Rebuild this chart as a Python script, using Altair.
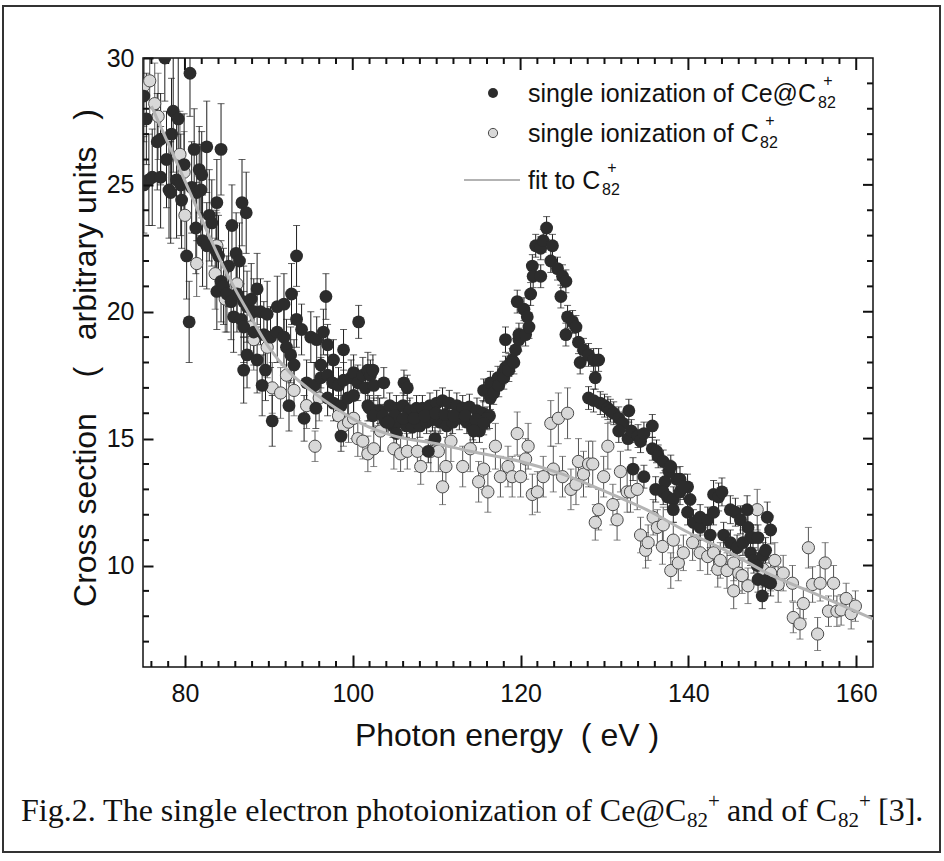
import altair as alt
import pandas as pd

# ---------------- data ----------------
# (photon energy eV, cross section, error half-width)
dark_left = [
    (75.1, 28.5, 1.8), (75.1, 25.0, 1.9), (75.4, 27.6, 1.8), (75.7, 25.2, 1.8), (76.1, 25.3, 1.9),
    (76.7, 26.7, 1.9), (77.1, 26.8, 1.8), (77.1, 25.3, 2.0), (77.6, 30.0, 1.7), (77.8, 26.0, 1.9),
    (78.1, 24.8, 1.9), (78.3, 24.7, 2.0), (78.4, 27.0, 2.2), (78.6, 27.9, 2.4), (79.0, 25.2, 2.3),
    (79.2, 27.6, 2.5), (79.5, 25.0, 2.0), (79.6, 24.4, 1.9), (79.9, 25.8, 2.0), (80.2, 22.2, 1.7),
    (80.5, 19.6, 1.6), (80.6, 29.4, 1.7), (80.8, 24.9, 1.8), (81.1, 26.4, 1.6), (81.3, 23.3, 1.8),
    (81.4, 24.7, 1.9), (81.7, 25.6, 1.7), (81.9, 24.8, 1.8), (82.0, 25.4, 1.7), (82.1, 22.8, 1.8),
    (82.6, 26.5, 1.8), (82.6, 22.6, 1.7), (82.9, 23.8, 1.8), (83.2, 23.5, 1.7), (83.7, 22.4, 1.6),
    (83.8, 24.3, 1.7), (83.8, 20.8, 1.5), (84.0, 22.2, 1.6), (84.3, 26.4, 1.8), (84.3, 21.2, 1.6),
    (84.6, 21.0, 1.5), (85.0, 20.7, 1.5), (85.2, 21.8, 1.6), (85.5, 20.4, 1.5), (85.6, 23.4, 1.6),
    (85.8, 19.8, 1.4), (86.1, 22.3, 1.6), (86.2, 20.7, 1.5), (86.5, 22.0, 1.5), (86.7, 19.7, 1.4),
    (86.8, 24.3, 1.7), (87.0, 20.4, 1.4), (87.0, 19.4, 1.4), (87.0, 17.7, 1.3), (87.3, 23.9, 1.6),
    (87.4, 20.2, 1.4), (87.4, 18.3, 1.3), (87.9, 20.5, 1.4), (88.2, 20.0, 1.3), (88.2, 19.2, 1.3),
    (88.6, 20.9, 1.4), (88.6, 18.1, 1.3), (89.0, 20.0, 1.3), (89.2, 17.1, 1.2), (89.4, 19.1, 1.3),
    (89.6, 17.7, 1.2), (89.8, 19.9, 1.3), (90.2, 19.0, 1.2), (90.4, 15.7, 1.0), (91.0, 20.2, 1.2),
    (91.0, 19.2, 1.2), (91.8, 20.3, 1.2), (91.8, 19.0, 1.1), (92.1, 18.6, 1.1), (92.4, 16.3, 1.0),
    (92.6, 18.3, 1.1), (92.7, 20.7, 1.2), (93.0, 17.9, 1.0), (93.3, 22.2, 1.2), (93.3, 19.7, 1.1),
    (93.9, 19.3, 1.0), (94.2, 15.8, 0.9), (94.5, 17.2, 0.9), (95.0, 19.0, 1.0), (95.4, 17.1, 0.9),
    (95.6, 16.2, 0.8), (95.7, 18.9, 0.9), (96.2, 17.9, 0.9), (96.5, 19.2, 0.9), (96.8, 20.6, 0.9),
]
dark_mid = [
    (96.2, 17.4, 0.8), (97.0, 18.7, 0.8), (97.0, 17.5, 0.8), (97.0, 16.6, 0.7), (97.6, 17.2, 0.8),
    (97.7, 18.1, 0.8), (97.7, 16.4, 0.7), (98.3, 17.1, 0.7), (98.6, 16.3, 0.7), (98.6, 15.1, 0.6),
    (98.9, 18.5, 0.8), (98.9, 17.3, 0.7), (99.4, 16.6, 0.7), (99.8, 17.4, 0.7), (100.1, 16.7, 0.7),
    (100.1, 17.6, 0.7), (100.6, 17.2, 0.7), (100.7, 19.6, 0.65), (101.2, 17.5, 0.7), (101.5, 17.0, 0.6),
    (101.8, 17.7, 0.7), (101.8, 16.3, 0.6), (102.1, 17.5, 0.6), (102.4, 17.7, 0.6), (102.5, 17.1, 0.6),
    (102.5, 16.0, 0.6), (103.0, 16.1, 0.6), (103.7, 17.2, 0.6),
]
dark_band = [
    (102.0, 16.2, 0.5), (103.2, 16.1, 0.5), (104.4, 16.3, 0.5), (105.2, 16.2, 0.5), (106.0, 16.3, 0.5),
    (106.8, 16.1, 0.5), (107.6, 16.2, 0.5), (108.3, 16.2, 0.5), (109.2, 16.3, 0.5), (110.0, 16.4, 0.5),
    (110.7, 16.5, 0.5), (111.5, 16.4, 0.5), (112.4, 16.3, 0.5), (113.1, 16.2, 0.5), (113.9, 16.25, 0.5),
    (114.8, 16.1, 0.5), (115.5, 16.0, 0.5), (116.3, 15.9, 0.5),
    (102.4, 15.9, 0.45), (104.0, 15.65, 0.45), (104.8, 15.5, 0.45), (105.6, 15.65, 0.45), (106.4, 15.5, 0.45),
    (107.1, 15.45, 0.45), (108.0, 15.5, 0.45), (108.8, 15.65, 0.45), (109.5, 15.75, 0.45), (110.4, 15.65, 0.45),
    (111.2, 15.5, 0.45), (111.9, 15.65, 0.45), (112.7, 15.8, 0.45), (113.6, 15.65, 0.45), (114.3, 15.4, 0.45),
    (115.1, 15.3, 0.45), (116.0, 15.8, 0.45),
    (103.6, 15.9, 0.45), (105.0, 15.9, 0.45), (106.0, 15.8, 0.45), (107.3, 15.8, 0.45), (108.6, 15.9, 0.45),
    (109.9, 16.0, 0.45), (111.0, 15.95, 0.45), (112.0, 15.9, 0.45), (113.4, 15.9, 0.45), (114.7, 15.75, 0.45),
    (115.6, 15.6, 0.45),
    (104.2, 15.65, 0.45), (105.2, 15.2, 0.45), (106.1, 17.2, 0.5), (106.5, 17.0, 0.5), (109.0, 14.5, 0.45),
    (109.8, 15.0, 0.45), (114.4, 15.3, 0.45),
]
dark_rise = [
    (115.6, 16.9, 0.45), (116.4, 17.2, 0.45), (116.4, 16.6, 0.45), (116.8, 16.8, 0.45), (117.3, 17.4, 0.45),
    (117.4, 17.1, 0.45), (117.9, 17.6, 0.45), (118.0, 17.4, 0.45), (118.2, 17.8, 0.45), (118.2, 18.9, 0.5),
    (118.6, 17.9, 0.45), (118.6, 17.7, 0.45), (119.0, 18.1, 0.45), (119.2, 18.0, 0.45), (119.4, 18.5, 0.45),
    (119.8, 18.9, 0.45), (119.6, 20.4, 0.45), (119.8, 19.1, 0.45), (120.4, 20.1, 0.45), (120.6, 19.1, 0.45),
    (120.8, 19.8, 0.45), (121.0, 19.4, 0.45), (121.2, 20.7, 0.45), (121.4, 21.8, 0.45), (121.5, 21.4, 0.45),
    (121.8, 22.6, 0.45), (122.4, 22.5, 0.45), (122.4, 21.4, 0.45), (122.7, 22.8, 0.45), (123.1, 23.3, 0.45),
]
dark_fall = [
    (123.6, 22.0, 0.45), (123.8, 22.6, 0.45), (124.4, 21.7, 0.45), (124.8, 20.6, 0.45), (125.0, 21.4, 0.45),
    (125.4, 21.2, 0.45), (125.4, 19.1, 0.45), (125.6, 19.8, 0.45), (126.2, 19.6, 0.45), (126.6, 19.4, 0.45),
    (126.9, 18.8, 0.45), (127.1, 18.0, 0.45), (127.5, 18.5, 0.45), (128.1, 18.3, 0.45), (128.7, 18.1, 0.45),
    (129.3, 18.1, 0.45), (128.9, 17.4, 0.45), (128.1, 16.6, 0.45), (128.7, 16.5, 0.45), (129.5, 16.4, 0.45),
    (130.0, 16.3, 0.45), (130.4, 16.2, 0.45), (130.7, 16.1, 0.45), (131.1, 16.0, 0.45), (131.7, 15.8, 0.45),
    (132.2, 15.6, 0.45), (132.9, 16.1, 0.45), (131.7, 15.3, 0.45), (132.8, 15.0, 0.45), (133.2, 15.3, 0.45),
    (134.0, 15.1, 0.45), (134.3, 14.9, 0.45), (134.7, 15.2, 0.45), (135.7, 15.5, 0.45), (135.7, 14.6, 0.45),
    (136.2, 14.5, 0.45), (136.4, 14.3, 0.45), (137.0, 14.1, 0.45), (137.7, 13.7, 0.45), (137.9, 13.9, 0.45),
    (138.6, 13.4, 0.45), (137.2, 13.3, 0.45), (133.4, 13.8, 0.45), (134.7, 13.5, 0.45), (136.1, 13.0, 0.5),
    (137.0, 12.9, 0.5), (137.5, 12.7, 0.5), (138.2, 12.6, 0.5), (139.0, 12.9, 0.5), (139.9, 13.1, 0.5),
    (139.0, 13.4, 0.5), (139.4, 13.1, 0.5), (140.2, 12.6, 0.5), (138.2, 12.2, 0.5), (139.9, 12.1, 0.5),
    (140.6, 11.7, 0.5), (141.4, 11.5, 0.5), (141.4, 11.9, 0.5), (142.3, 11.8, 0.5), (142.6, 11.2, 0.5),
    (143.0, 12.1, 0.5), (143.0, 12.8, 0.55), (143.6, 12.7, 0.55), (144.0, 12.9, 0.55), (144.2, 11.2, 0.5),
    (145.0, 12.2, 0.55), (145.0, 10.9, 0.5), (145.6, 12.1, 0.55), (145.8, 10.7, 0.5), (146.2, 11.8, 0.55),
    (146.5, 10.9, 0.5), (147.0, 12.2, 0.55), (147.1, 11.5, 0.5), (147.4, 11.1, 0.5), (147.7, 11.1, 0.5),
    (148.3, 11.1, 0.5), (147.4, 10.5, 0.5), (147.8, 10.2, 0.5), (148.2, 10.0, 0.5), (148.9, 10.4, 0.5),
    (149.2, 10.6, 0.5), (149.4, 11.9, 0.6), (149.8, 11.4, 0.55), (148.3, 9.45, 0.5), (149.2, 9.4, 0.5),
    (149.8, 9.3, 0.5), (148.8, 8.8, 0.5),
]
light_pts = [
    (75.1, 28.9, 1.6), (75.8, 29.1, 1.5), (76.4, 28.2, 1.6), (76.8, 27.7, 1.7), (79.4, 26.2, 1.7),
    (79.9, 25.5, 1.6), (80.0, 23.8, 1.6), (81.4, 21.9, 1.3), (83.6, 21.5, 1.4), (83.8, 22.6, 1.3),
    (84.8, 20.5, 1.3), (86.2, 21.1, 1.4), (87.8, 19.4, 1.2), (88.2, 18.9, 1.2), (89.8, 18.6, 1.2),
    (90.4, 17.0, 1.0), (91.4, 16.8, 1.0), (92.1, 17.5, 1.1), (93.0, 16.9, 1.0), (94.5, 16.3, 0.9),
    (95.5, 14.7, 0.6), (96.0, 16.6, 0.9), (98.3, 15.9, 0.8), (98.9, 15.5, 0.8), (99.5, 15.65, 0.8),
    (100.1, 15.8, 0.8), (100.6, 15.0, 0.7), (101.2, 14.9, 0.7), (101.8, 14.4, 0.7), (102.5, 14.6, 0.7),
    (103.3, 15.3, 0.8), (104.9, 14.6, 0.8), (105.7, 14.4, 0.7), (106.5, 14.5, 0.7), (107.7, 14.5, 0.8),
    (108.1, 13.9, 0.7), (109.3, 14.5, 0.8), (110.2, 14.5, 0.8), (110.7, 13.1, 0.7), (111.1, 13.9, 0.8),
    (111.7, 14.9, 0.8), (113.1, 13.9, 0.8), (114.0, 14.6, 0.9), (115.0, 13.3, 0.8), (115.6, 13.8, 0.8),
    (116.1, 12.9, 0.8), (117.0, 14.7, 0.9), (117.6, 13.5, 0.8), (118.5, 13.9, 0.8), (119.0, 13.5, 0.8),
    (119.6, 15.2, 0.85), (120.0, 13.5, 0.8), (120.6, 14.2, 0.8), (120.9, 14.7, 0.9), (121.4, 12.8, 0.8),
    (122.0, 12.9, 0.8), (122.7, 13.5, 0.8), (123.6, 15.6, 0.9), (123.9, 13.8, 0.9), (124.5, 15.8, 1.0),
    (125.0, 13.5, 0.8), (125.6, 16.0, 1.0), (126.0, 13.0, 0.8), (126.6, 13.2, 0.8), (126.9, 14.1, 0.9),
    (127.5, 13.6, 0.9), (128.1, 14.0, 0.9), (128.6, 14.0, 0.9), (128.9, 11.7, 0.7), (129.3, 12.2, 0.8),
    (129.9, 13.5, 0.8), (130.4, 14.7, 0.9), (131.0, 12.4, 0.8), (131.5, 11.8, 0.8), (131.9, 13.7, 0.8),
    (132.7, 12.9, 0.8), (133.1, 12.9, 0.8), (133.9, 13.0, 0.8), (134.3, 11.2, 0.7), (134.9, 10.6, 0.7),
    (135.2, 10.9, 0.7), (135.8, 11.9, 0.7), (136.3, 11.5, 0.7), (137.0, 11.6, 0.7), (136.9, 10.75, 0.7),
    (137.9, 9.8, 0.7), (138.2, 11.0, 0.7), (138.8, 10.1, 0.7), (139.4, 10.5, 0.7), (140.5, 10.9, 0.7),
    (141.4, 10.5, 0.7), (142.3, 10.35, 0.7), (143.0, 10.5, 0.7), (143.5, 9.85, 0.7), (143.8, 10.2, 0.7),
    (144.6, 9.8, 0.7), (145.4, 10.1, 0.7), (145.4, 9.0, 0.7), (146.0, 9.7, 0.7), (146.4, 9.6, 0.7),
    (147.1, 9.2, 0.7), (148.2, 12.2, 0.8), (148.9, 9.85, 0.7), (149.8, 9.7, 0.7), (150.3, 10.2, 0.7),
    (150.7, 9.25, 0.7), (151.3, 9.7, 0.7), (152.4, 9.3, 0.7), (152.5, 7.95, 0.6), (153.3, 7.7, 0.6),
    (153.7, 8.5, 0.6), (154.3, 10.7, 0.8), (154.8, 9.25, 0.7), (155.4, 7.3, 0.65), (155.7, 9.3, 0.7),
    (156.3, 10.1, 0.8), (156.7, 8.2, 0.6), (157.3, 9.3, 0.7), (157.7, 8.2, 0.6), (158.2, 8.25, 0.6),
    (158.8, 8.7, 0.6), (159.4, 8.1, 0.6), (159.9, 8.4, 0.6),
]
fit_x = [76, 77.5, 79, 81, 83, 85, 87.5, 90, 92.5, 95, 98, 101, 105, 110, 114, 120, 125, 129.5, 135, 140, 145, 149.4, 155, 162]
fit_y = [28.1, 27.0, 25.9, 24.4, 22.9, 21.5, 20.0, 18.6, 17.6, 16.9, 16.2, 15.6, 15.1, 14.8, 14.5, 14.1, 13.6, 13.0, 12.2, 11.3, 10.5, 9.7, 8.9, 7.9]

x_labels = [80, 100, 120, 140, 160]
x_minor = [76, 78, 82, 84, 86, 88, 90, 92, 94, 96, 98, 102, 104, 106, 108, 110, 112, 114, 116, 118,
           122, 124, 126, 128, 130, 132, 134, 136, 138, 142, 144, 146, 148, 150, 152, 154, 156, 158]
y_labels = [10, 15, 20, 25, 30]
y_major = [10, 15, 20, 25]
y_minor = [7, 8, 9, 11, 12, 13, 14, 16, 17, 18, 19, 21, 22, 23, 24, 26, 27, 28, 29]

X_DOM = [75, 162]
Y_DOM = [6, 30]
W, H = 730, 609
PAD_L, PAD_T = 143, 58
PX_PER_X = W / (X_DOM[1] - X_DOM[0])
PX_PER_Y = H / (Y_DOM[1] - Y_DOM[0])
TICK_C = "#111111"
TICK_W = 2

# ---------------- helpers ----------------
def to_df(rows):
    df = pd.DataFrame(rows, columns=["x", "y", "e"])
    df["lo"] = df["y"] - df["e"]
    df["hi"] = df["y"] + df["e"]
    return df

dark = to_df(dark_left + dark_mid + dark_band + dark_rise + dark_fall)
light = to_df(light_pts)
fit = pd.DataFrame({"x": fit_x, "y": fit_y})

xs = alt.Scale(domain=X_DOM, nice=False, zero=False)
ys = alt.Scale(domain=Y_DOM, nice=False, zero=False)
# bottom/left major ticks come from the axes, shifted inside the frame
AX_X = alt.Axis(values=x_labels, ticks=True, tickSize=12, tickWidth=TICK_W, tickColor=TICK_C, offset=-12,
                domain=False, grid=False, title=None, format="d", zindex=2,
                labelFont="Liberation Sans", labelFontSize=25, labelPadding=14, labelColor="#111",
                labelFlush=False, labelOverlap=False)
AX_Y = alt.Axis(values=y_labels, ticks=True, tickSize=10, tickWidth=TICK_W, tickColor=TICK_C, offset=-10,
                domain=False, grid=False, title=None, format="d", zindex=2,
                labelFont="Liberation Sans", labelFontSize=25, labelPadding=9, labelColor="#111",
                labelFlush=False, labelOverlap=False)

def X(f):
    return alt.X(f, type="quantitative", scale=xs, axis=AX_X)

def Y(f):
    return alt.Y(f, type="quantitative", scale=ys, axis=AX_Y)

one = pd.DataFrame({"a": [0]})

def txt(s, x, y, size, font="Liberation Sans", align="left", baseline="alphabetic", angle=None):
    kw = dict(text=s, font=font, fontSize=size, align=align, baseline=baseline, color="#111")
    if angle is not None:
        kw["angle"] = angle
    return alt.Chart(one).mark_text(**kw).encode(x=alt.value(x), y=alt.value(y))

layers = []

# outer figure frame
layers.append(alt.Chart(one).mark_rect(fillOpacity=0, stroke="#333", strokeWidth=2).encode(
    x=alt.value(3 - PAD_L), x2=alt.value(940 - PAD_L), y=alt.value(6 - PAD_T), y2=alt.value(852 - PAD_T)))

# error bars
for df, col in ((light, "#555555"), (dark, "#1e1e1e")):
    layers.append(alt.Chart(df).mark_rule(color=col, strokeWidth=1, clip=True).encode(
        x=X("x"), y=Y("lo"), y2="hi"))
    for end in ("lo", "hi"):
        layers.append(alt.Chart(df).mark_tick(orient="horizontal", size=7, thickness=1, color=col, clip=True).encode(
            x=X("x"), y=Y(end)))

# remaining inward frame ticks (minor ones, plus top/right majors)
def xticks(vals, length_px, both):
    d = length_px / PX_PER_Y
    rows = [(float(v), Y_DOM[1] - d, float(Y_DOM[1])) for v in vals]
    if both:
        rows += [(float(v), float(Y_DOM[0]), Y_DOM[0] + d) for v in vals]
    df = pd.DataFrame(rows, columns=["x", "lo", "hi"])
    return alt.Chart(df).mark_rule(color=TICK_C, strokeWidth=TICK_W, clip=True).encode(
        x=X("x"), y=Y("lo"), y2="hi")

def yticks(vals, length_px, both):
    d = length_px / PX_PER_X
    rows = [(X_DOM[1] - d, float(X_DOM[1]), float(v)) for v in vals]
    if both:
        rows += [(float(X_DOM[0]), X_DOM[0] + d, float(v)) for v in vals]
    df = pd.DataFrame(rows, columns=["lo", "hi", "y"])
    return alt.Chart(df).mark_rule(color=TICK_C, strokeWidth=TICK_W, clip=True).encode(
        x=X("lo"), x2="hi", y=Y("y"))

layers += [xticks(x_labels, 12, False), xticks(x_minor, 6, True),
           yticks(y_major, 10, False), yticks(y_minor, 6, True)]

# points
layers.append(alt.Chart(light).mark_circle(size=150, opacity=1, fill="#d8d8d8", stroke="#4a4a4a",
                                           strokeWidth=1, clip=True).encode(x=X("x"), y=Y("y")))
layers.append(alt.Chart(dark).mark_circle(size=165, opacity=1, color="#2c2c2c", clip=True).encode(
    x=X("x"), y=Y("y")))

# fit line
layers.append(alt.Chart(fit).mark_line(color="#b4b4b4", strokeWidth=3, interpolate="monotone", clip=True).encode(
    x=X("x"), y=Y("y")))

# legend
layers.append(alt.Chart(one).mark_circle(size=100, opacity=1, color="#2c2c2c").encode(
    x=alt.value(493 - PAD_L), y=alt.value(93 - PAD_T)))
layers.append(alt.Chart(one).mark_circle(size=85, opacity=1, fill="#d8d8d8", stroke="#4a4a4a", strokeWidth=1).encode(
    x=alt.value(493 - PAD_L), y=alt.value(133 - PAD_T)))
layers.append(alt.Chart(one).mark_rule(color="#9a9a9a", strokeWidth=1.5).encode(
    x=alt.value(464 - PAD_L), x2=alt.value(520 - PAD_L), y=alt.value(180 - PAD_T)))

legend_rows = [("single ionization of Ce@C", 102, 818), ("single ionization of C", 142, 760), ("fit to C", 189, 602)]
for s, base, subx in legend_rows:
    layers.append(txt(s, 528 - PAD_L, base - PAD_T, 25))
    layers.append(txt("82", subx - PAD_L, base + 6 - PAD_T, 16))
    layers.append(txt("+", subx + 10 - PAD_L, base - 21 - PAD_T, 16, align="center", baseline="middle"))

# axis titles
layers.append(txt("Photon energy\u00a0 (\u00a0eV\u00a0)", 507 - PAD_L, 746 - PAD_T, 32, align="center"))
layers.append(txt("Cross section\u00a0\u00a0\u00a0\u00a0(\u00a0\u00a0\u00a0arbitrary units\u00a0\u00a0\u00a0)", 96 - PAD_L, 358 - PAD_T, 32,
                  align="center", angle=270))

# caption
CF = "Liberation Serif"
cb = 821
layers.append(txt("Fig.2. The single electron photoionization of Ce@C", 21 - PAD_L, cb - PAD_T, 32, font=CF))
layers.append(txt("82", 687 - PAD_L, cb + 6 - PAD_T, 21, font=CF))
layers.append(txt("+", 708 - PAD_L, cb - 13 - PAD_T, 21, font=CF))
layers.append(txt("and of C", 727 - PAD_L, cb - PAD_T, 32, font=CF))
layers.append(txt("82", 838 - PAD_L, cb + 6 - PAD_T, 21, font=CF))
layers.append(txt("+", 859 - PAD_L, cb - 13 - PAD_T, 21, font=CF))
layers.append(txt("[3].", 878 - PAD_L, cb - PAD_T, 32, font=CF))

chart = alt.layer(*layers).properties(
    width=W, height=H,
    autosize=alt.AutoSizeParams(type="none"),
    padding={"left": PAD_L, "top": PAD_T, "right": 944 - PAD_L - W, "bottom": 861 - PAD_T - H},
    background="white",
).configure_view(stroke="#111", strokeWidth=1.5)

chart.save("out.html", embed_options={"renderer": "svg", "actions": False})
